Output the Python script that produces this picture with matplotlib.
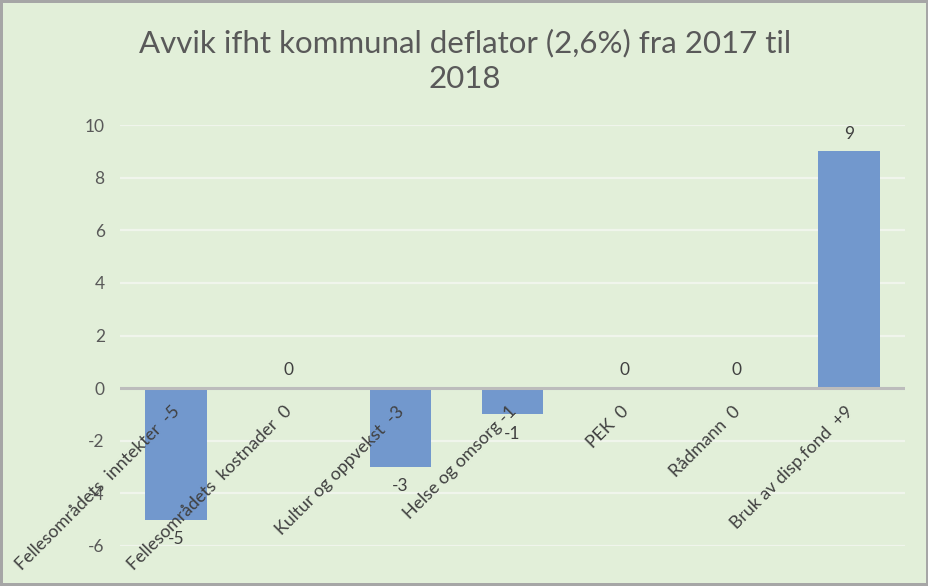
import matplotlib
matplotlib.use("Agg")
import matplotlib.pyplot as plt

categories = ["Fellesområdets  inntekter  -5", "Fellesområdets  kostnader  0",
              "Kultur og oppvekst  -3", "Helse og omsorg -1", "PEK  0",
              "Rådmann  0", "Bruk av disp.fond  +9"]
values = [-5, 0, -3, -1, 0, 0, 9]
value_labels = ["-5", "0", "-3", "-1", "0", "0", "9"]
yticks = [-6, -4, -2, 0, 2, 4, 6, 8, 10]
title = "Avvik ifht kommunal deflator (2,6%) fra 2017 til\n2018"

plt.rcParams['font.family'] = ['Lato', 'DejaVu Sans']

W, H = 929, 586
fig = plt.figure(figsize=(W/100, H/100), dpi=100)
bg = "#e2efd9"
fig.patch.set_facecolor(bg)
fig.patch.set_edgecolor("#a6a6a6")
fig.patch.set_linewidth(3)

ax = fig.add_axes([120/W, 1-546/H, (905-120)/W, (546-125)/H])
ax.set_facecolor(bg)
x = list(range(len(values)))
ax.bar(x, values, width=0.55, color="#7298cd", zorder=3)
ax.set_xlim(-0.5, len(values)-0.5)
ax.set_ylim(-6, 10)
ax.set_yticks(yticks)
ax.set_yticklabels([str(t) for t in yticks], fontsize=12.5, color="#595959")
ax.tick_params(axis='y', length=0, pad=11)
ax.set_xticks([])
for s in ax.spines.values():
    s.set_visible(False)
for t in yticks:
    if t != 0:
        ax.axhline(t, color="#f0f5ec", lw=1.6, zorder=1)
ax.axhline(0, color="#bcbcbc", lw=2.2, zorder=4)

for i, (v, lab) in enumerate(zip(values, value_labels)):
    if v >= 0:
        ax.annotate(lab, (i, v), xytext=(0, 7), textcoords="offset points",
                    ha="center", va="bottom", fontsize=12.5, color="#404040", zorder=5)
    else:
        ax.annotate(lab, (i, v), xytext=(0, -8), textcoords="offset points",
                    ha="center", va="top", fontsize=12.5, color="#404040", zorder=5)

for i, c in enumerate(categories):
    ax.annotate(c, (i, 0), xytext=(-3, -11), textcoords="offset points",
                ha="right", va="top", rotation=45, rotation_mode="anchor",
                fontsize=12.8, color="#404040", zorder=5)

fig.text(465/W, 1-61/H, title, ha="center", va="center", fontsize=22.5,
         color="#595959", linespacing=1.3)

fig.savefig("out.png", dpi=100, facecolor=fig.get_facecolor(), edgecolor=fig.get_edgecolor())
